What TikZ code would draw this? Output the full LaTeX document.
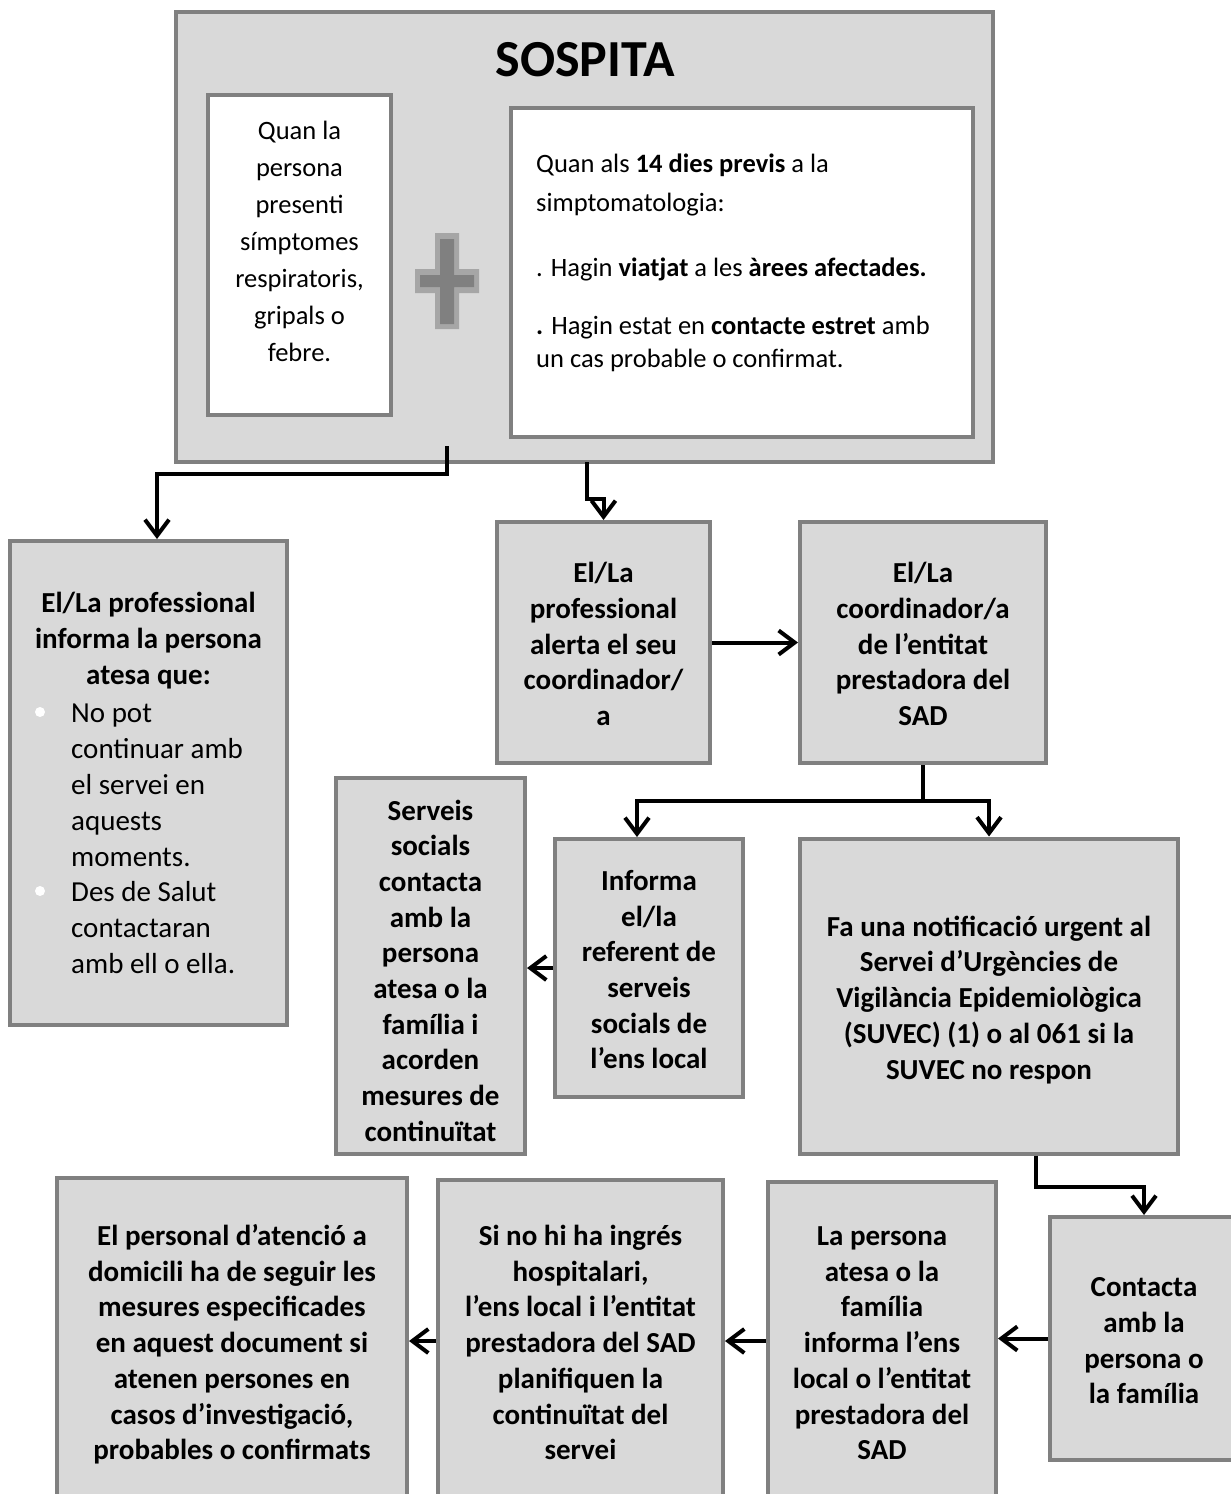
\documentclass[tikz,border=0pt]{standalone}
\usepackage{fontspec}
\setmainfont{Carlito}
\usetikzlibrary{arrows.meta}

\definecolor{boxfill}{HTML}{D9D9D9}
\definecolor{boxline}{HTML}{808080}
\definecolor{plusdark}{HTML}{808080}
\definecolor{pluslight}{HTML}{A6A6A6}

\newcommand{\boxstrut}{\rule{0pt}{34pt}}

\tikzset{
  box/.style={draw=boxline, fill=boxfill, line width=4pt, inner sep=0pt, align=center,
    font=\bfseries\fontsize{29}{35.7}\selectfont, execute at end node=\strut},
  whitebox/.style={draw=boxline, fill=white, line width=4pt, inner sep=0pt},
  txt/.style={inner sep=0pt, font=\fontsize{26.5}{37}\selectfont},
  arr/.style={line width=4pt, -{Straight Barb[length=16pt,width=24pt]}},
}

\begin{document}
\begin{tikzpicture}[x=1pt,y=-1pt]
  \useasboundingbox (0,0) rectangle (1231,1494);
  \clip (0,0) rectangle (1231,1494);
  \fill[white] (0,0) rectangle (1231,1494);

  % top block
  \node[box, minimum width=817, minimum height=450] (sospita) at (584.5,237) {};
  \node[inner sep=0pt, font=\bfseries\fontsize{52}{60}\selectfont] (title) at (585,60) {SOSPITA};
  \node[whitebox, minimum width=183, minimum height=320] (symptoms) at (299.5,255) {};
  \node[txt, align=center, anchor=north] (symptxt) at (299.5,121)
    {Quan la\\persona\\presenti\\símptomes\\respiratoris,\\gripals o\\febre.};
  \node[whitebox, minimum width=462, minimum height=329] (travel) at (742,272.5) {};
  \node[txt, align=left, anchor=north west] (traveltxt) at (536,154)
    {Quan als \textbf{14 dies previs} a la\\[2pt]
     simptomatologia:\\[28pt]
     . Hagin \textbf{viatjat} a les \textbf{àrees afectades.}\\[21pt]
     \textbf{.} Hagin estat en \textbf{contacte estret} amb\\[-4pt]
     un cas probable o confirmat.};
  \fill[pluslight] (415,269) rectangle (479,293) (435,233) rectangle (459,329);
  \fill[plusdark] (420,275) rectangle (474,287) (440,239) rectangle (454,324);

  % left column
  \node[box, minimum width=277, minimum height=484] (inform) at (148.5,783) {};
  \node[inner sep=0pt, align=center, font=\bfseries\fontsize{29}{36}\selectfont] (informhead) at (148.5,641)
    {El/La professional\\informa la persona\\atesa que:};
  \node[inner sep=0pt, align=left, anchor=north west, font=\fontsize{29}{35.8}\selectfont] (informlist) at (71,704)
    {No pot\\continuar amb\\el servei en\\aquests\\moments.\\Des de Salut\\contactaran\\amb ell o ella.};
  \fill[white] (40,712) circle (5) (40,891) circle (5);

  % middle rows
  \node[box, minimum width=213, minimum height=241] (alert) at (603.5,642.5)
    {\boxstrut El/La\\professional\\alerta el seu\\coordinador/\\a};
  \node[box, minimum width=246, minimum height=241] (coord) at (923,642.5)
    {\boxstrut El/La\\coordinador/a\\de l’entitat\\prestadora del\\SAD};
  \node[box, minimum width=188, minimum height=258] (referent) at (649,968)
    {\boxstrut Informa\\el/la\\referent de\\serveis\\socials de\\l’ens local};
  \node[box, minimum width=378, minimum height=315] (notify) at (989,996)
    {\boxstrut Fa una notificació urgent al\\Servei d’Urgències de\\Vigilància Epidemiològica\\(SUVEC) (1) o al 061 si la\\SUVEC no respon};
  \node[box, minimum width=189, minimum height=376] (social) at (430.5,966)
    {\rule{0pt}{40pt}Serveis\\socials\\contacta\\amb la\\persona\\atesa o la\\família i\\acorden\\mesures de\\continuïtat};

  % bottom row
  \node[box, minimum width=188, minimum height=243] (contact) at (1144,1338.5)
    {\boxstrut Contacta\\amb la\\persona o\\la família};
  \node[box, minimum width=228, minimum height=318] (family) at (882,1341)
    {\boxstrut La persona\\atesa o la\\família\\informa l’ens\\local o l’entitat\\prestadora del\\SAD};
  \node[box, minimum width=285, minimum height=322] (plan) at (580.5,1341)
    {\boxstrut Si no hi ha ingrés\\hospitalari,\\l’ens local i l’entitat\\prestadora del SAD\\planifiquen la\\continuïtat del\\servei};
  \node[box, minimum width=350, minimum height=326] (staff) at (232,1341)
    {\boxstrut El personal d’atenció a\\domicili ha de seguir les\\mesures especificades\\en aquest document si\\atenen persones en\\casos d’investigació,\\probables o confirmats};

  % connectors
  \coordinate (s1) at (447,446);
  \coordinate (s2) at (587,462);
  \coordinate (split) at (923,801);
  \draw[arr] (s1) -- (447,474) -| ([xshift=8.5pt]inform.north);
  \draw[arr] (s2) -- (587,499) -| (alert.north);
  \draw[arr] (alert) -- (coord);
  \draw[line width=4pt] (coord) -- (split);
  \draw[arr] (split) -| ([xshift=-12pt]referent.north);
  \draw[arr] (split) -| (notify.north);
  \draw[arr] (referent.west) -- (referent.west -| social.east);
  \draw[arr] ([xshift=47pt]notify.south) -- ++(0,31) -| (contact.north);
  \draw[arr] (contact.west) -- (contact.west -| family.east);
  \draw[arr] (family) -- (plan);
  \draw[arr] (plan) -- (staff);
\end{tikzpicture}
\end{document}
